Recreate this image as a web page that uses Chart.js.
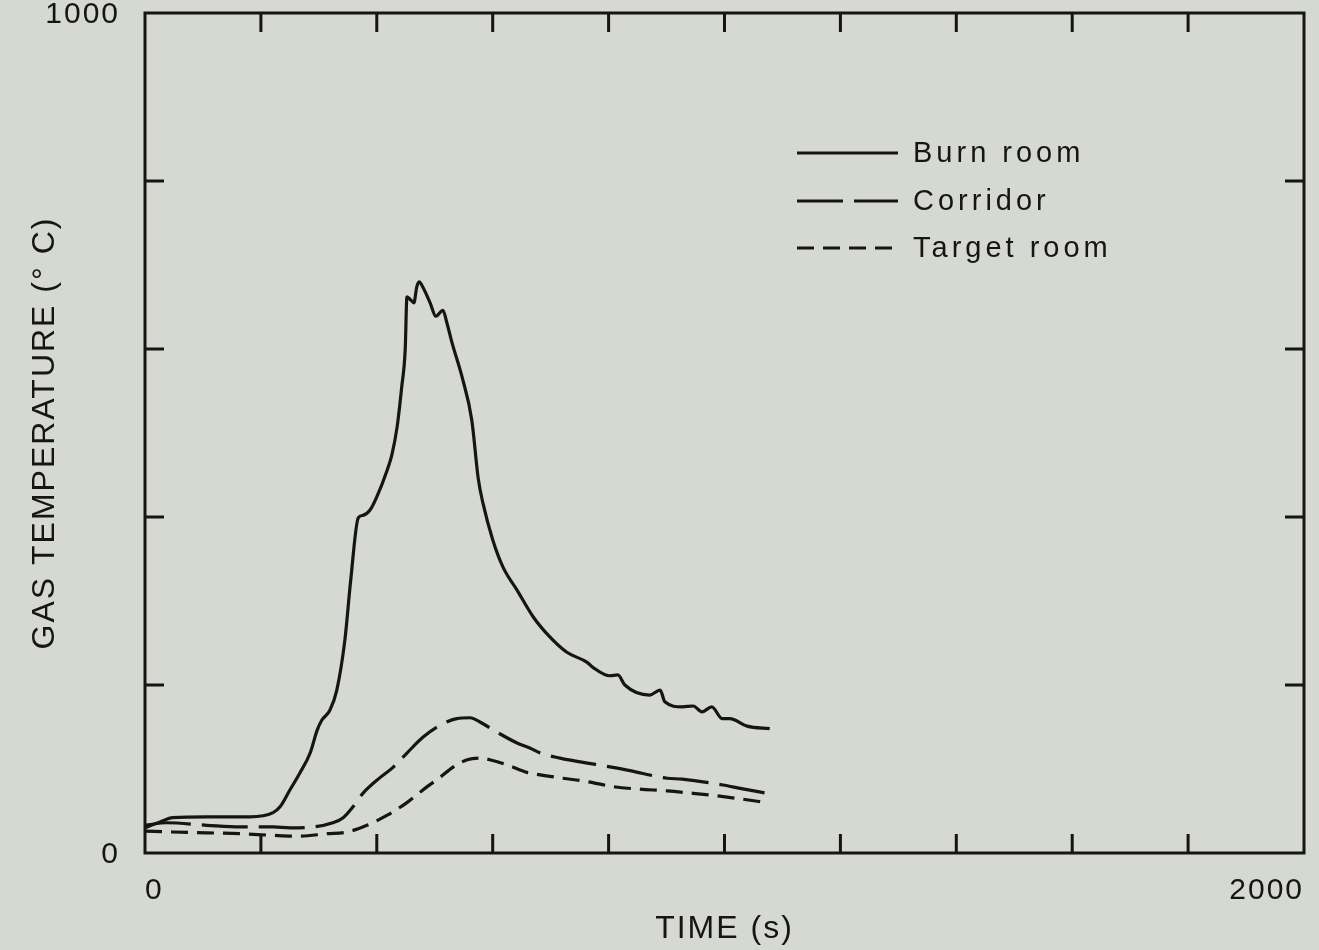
<!DOCTYPE html>
<html>
<head>
<meta charset="utf-8">
<script src="https://cdn.jsdelivr.net/npm/chart.js@4.4.1/dist/chart.umd.min.js"></script>
<style>
  html, body { margin: 0; padding: 0; background: #d6d8d2; }
  #wrap { width: 1319px; height: 950px; position: relative; }
</style>
</head>
<body>
<div id="wrap"><canvas id="tempChart"></canvas></div>
<script>
// gas temperature (°C) vs time (s)
const burnTime = [0, 26, 48, 107, 181, 221, 233, 250, 267, 285, 297, 305, 319, 331, 345, 355, 368, 376, 388, 400, 418, 426, 435, 443, 449, 452, 459, 464, 469, 473, 480, 492, 502, 514, 521, 530, 547, 564, 575, 583, 600, 618, 642, 670, 699, 728, 763, 773, 802, 816, 828, 871, 889, 897, 927, 946, 961, 978, 996, 1009, 1039, 1078];
const burnTemp = [30, 37, 42, 43, 43, 48, 55, 75, 95, 119, 146, 158, 170, 194, 254, 325, 399, 402, 408, 424, 456, 474, 507, 555, 599, 662, 658, 655, 674, 680, 673, 655, 639, 646, 631, 607, 567, 515, 446, 417, 373, 340, 313, 281, 257, 239, 227, 221, 211, 212, 200, 188, 194, 180, 174, 175, 168, 174, 160, 160, 151, 148];

const corrTime = [0, 38, 107, 164, 221, 250, 290, 324, 342, 359, 376, 406, 428, 452, 480, 509, 538, 561, 578, 607, 642, 664, 682, 716, 739, 815, 837, 901, 927, 997, 1027, 1073];
const corrTemp = [33, 36, 33, 31, 31, 30, 31, 36, 42, 55, 71, 90, 102, 119, 138, 152, 160, 161, 156, 144, 131, 125, 119, 113, 110, 101, 98, 89, 88, 81, 77, 71];

const targTime = [0, 48, 107, 164, 221, 267, 314, 349, 383, 418, 452, 487, 509, 531, 556, 578, 595, 625, 659, 682, 721, 763, 808, 854, 901, 946, 987, 1032, 1073];
const targTemp = [26, 25, 24, 23, 21, 20, 23, 25, 33, 45, 60, 79, 90, 102, 111, 113, 111, 105, 96, 93, 89, 85, 79, 76, 74, 71, 68, 64, 60];

const seriesNames = ['Burn room', 'Corridor', 'Target room'];

// axes: only the end ticks carry labels
const xLabelled = [0, 2000];
const yLabelled = [0, 1000];

const ink = '#151515';
const fontFamily = "'Liberation Sans', Arial, sans-serif";

const pairs = (xs, ys) => xs.map((x, i) => ({ x, y: ys[i] }));

// frame with inward ticks on all four sides
const frameTicks = {
  id: 'frameTicks',
  beforeDraw(chart) {
    chart.ctx.letterSpacing = '2px';
  },
  afterDraw(chart) {
    const { ctx, chartArea: a, scales: { x, y } } = chart;
    const len = 19;
    ctx.save();
    ctx.strokeStyle = ink;
    ctx.lineWidth = 3;
    ctx.strokeRect(a.left, a.top, a.right - a.left, a.bottom - a.top);
    ctx.beginPath();
    x.ticks.forEach(t => {
      if (t.value <= x.min || t.value >= x.max) return;
      const px = x.getPixelForValue(t.value);
      ctx.moveTo(px, a.bottom); ctx.lineTo(px, a.bottom - len);
      ctx.moveTo(px, a.top); ctx.lineTo(px, a.top + len);
    });
    y.ticks.forEach(t => {
      if (t.value <= y.min || t.value >= y.max) return;
      const py = y.getPixelForValue(t.value);
      ctx.moveTo(a.left, py); ctx.lineTo(a.left + len, py);
      ctx.moveTo(a.right, py); ctx.lineTo(a.right - len, py);
    });
    ctx.stroke();
    ctx.restore();
  }
};

// legend sitting inside the plot, upper right
const insetLegend = {
  id: 'insetLegend',
  afterDraw(chart) {
    const { ctx } = chart;
    const x0 = 797, x1 = 898, tx = 913;
    const rows = [153, 201, 248];
    ctx.save();
    ctx.letterSpacing = '4px';
    ctx.font = '29px ' + fontFamily;
    ctx.fillStyle = ink;
    ctx.textBaseline = 'middle';
    chart.data.datasets.forEach((ds, i) => {
      ctx.beginPath();
      ctx.strokeStyle = ink;
      ctx.lineWidth = 3;
      ctx.setLineDash(ds.borderDash || []);
      ctx.moveTo(x0, rows[i]);
      ctx.lineTo(x1, rows[i]);
      ctx.stroke();
      ctx.fillText(ds.label, tx, rows[i] + 1);
    });
    ctx.restore();
  }
};

const lineStyle = { borderColor: ink, borderWidth: 3.2, pointRadius: 0, fill: false, cubicInterpolationMode: 'monotone' };

new Chart(document.getElementById('tempChart'), {
  type: 'line',
  data: {
    datasets: [
      { label: seriesNames[0], data: pairs(burnTime, burnTemp), ...lineStyle },
      { label: seriesNames[1], data: pairs(corrTime, corrTemp), ...lineStyle, borderDash: [46, 11] },
      { label: seriesNames[2], data: pairs(targTime, targTemp), ...lineStyle, borderDash: [17, 9] }
    ]
  },
  options: {
    responsive: true,
    maintainAspectRatio: false,
    animation: false,
    devicePixelRatio: 1,
    layout: { padding: 0 },
    plugins: { legend: { display: false }, tooltip: { enabled: false } },
    scales: {
      x: {
        type: 'linear', min: 0, max: 2000,
        grid: { display: false, drawTicks: false },
        border: { display: false },
        ticks: {
          stepSize: 200, autoSkip: false, maxRotation: 0, align: 'inner', padding: 20,
          color: ink, font: { family: fontFamily, size: 30 },
          callback: v => xLabelled.includes(v) ? String(v) : ''
        },
        title: {
          display: true, text: 'TIME (s)', color: ink,
          font: { family: fontFamily, size: 32 }, padding: { top: 0, bottom: 2 }
        },
        afterFit(s) { s.height = 97; s.paddingLeft = 0; s.paddingRight = 15; }
      },
      y: {
        type: 'linear', min: 0, max: 1000,
        grid: { display: false, drawTicks: false },
        border: { display: false },
        ticks: {
          stepSize: 200, autoSkip: false, padding: 25, labelOffset: 2,
          color: ink, font: { family: fontFamily, size: 30 },
          callback: v => yLabelled.includes(v) ? String(v) : ''
        },
        title: {
          display: true, text: 'GAS TEMPERATURE (° C)', color: ink,
          font: { family: fontFamily, size: 32 }, padding: { top: 26, bottom: 0 }
        },
        afterFit(s) { s.width = 145; s.paddingTop = 13; s.paddingBottom = 0; }
      }
    }
  },
  plugins: [frameTicks, insetLegend]
});
</script>
</body>
</html>
